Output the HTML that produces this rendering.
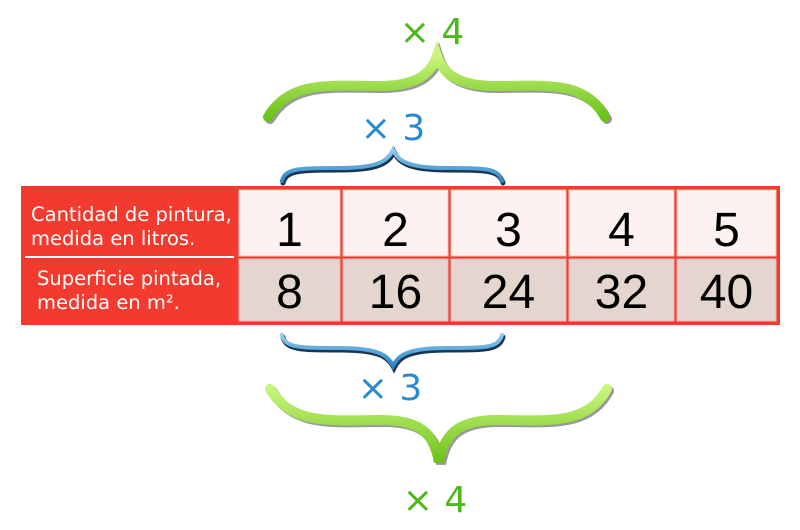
<!DOCTYPE html>
<html><head><meta charset="utf-8"><style>
body{margin:0;width:800px;height:530px;background:#fff;overflow:hidden;font-family:"Liberation Sans",sans-serif}
svg{display:block}
</style></head><body>
<svg width="800" height="530">
<defs>
<linearGradient id="gg" x1="0" y1="0" x2="0" y2="1"><stop offset="0" stop-color="#c8f57a"/><stop offset="1" stop-color="#6cc21a"/></linearGradient>
<linearGradient id="bg" x1="0" y1="0" x2="0" y2="1"><stop offset="0" stop-color="#8fcaf0"/><stop offset="1" stop-color="#2a86c8"/></linearGradient>
</defs>
<g>
<path d="M270,119 C292,82 332,88 382,88 C422,88 434,73 439,58 C444,73 457,88 497,88 C547,88 587,82 607,119" fill="none" stroke="#333" stroke-width="10" stroke-linecap="round" opacity="0.5"/>
<path d="M268,117 C290,80 330,86 380,86 C420,86 432,71 437,56 C442,71 455,86 495,86 C545,86 585,80 605,117" fill="none" stroke="url(#gg)" stroke-width="10" stroke-linecap="round"/>
</g>
<text x="432" y="44" font-size="36" fill="#4cb81a" text-anchor="middle" font-family="DejaVu Sans, sans-serif">× 4</text>
<g>
<path d="M283,183 C286,170 301,170 341,170 C381,170 389,162 394,152 C399,162 407,170 447,170 C487,170 499,170 503,183" fill="none" stroke="#1a3550" stroke-width="5" stroke-linecap="round"/>
<path d="M282,181 C285,168 300,168 340,168 C380,168 388,160 393,150 C398,160 406,168 446,168 C486,168 498,168 502,181" fill="none" stroke="url(#bg)" stroke-width="4" stroke-linecap="round"/>
</g>
<text x="393" y="140" font-size="36" fill="#2a8ad0" text-anchor="middle" font-family="DejaVu Sans, sans-serif">× 3</text>
<g>
<rect x="21" y="186" width="759" height="139" fill="#f33a2e"/>
<line x1="25" y1="257" x2="234" y2="257" stroke="#fff" stroke-width="2"/>
<g font-family="DejaVu Sans, sans-serif" font-size="19.5" fill="#fff">
<text x="31" y="221">Cantidad de pintura,</text>
<text x="31" y="245">medida en litros.</text>
<text x="37" y="285">Superficie pintada,</text>
<text x="37" y="309">medida en m².</text>
</g>
<g id="cells"></g>
</g>
<g>
<path d="M283,337 C286,350 301,350 341,350 C381,350 389,358 394,368 C399,358 407,350 447,350 C487,350 499,350 503,337" fill="none" stroke="#1a3550" stroke-width="5" stroke-linecap="round"/>
<path d="M282,335 C285,348 300,348 340,348 C380,348 388,356 393,366 C398,356 406,348 446,348 C486,348 498,348 502,335" fill="none" stroke="url(#bg)" stroke-width="4" stroke-linecap="round"/>
</g>
<text x="390" y="400" font-size="36" fill="#2a8ad0" text-anchor="middle" font-family="DejaVu Sans, sans-serif">× 3</text>
<g>
<path d="M272,391 C294,428 334,422 384,422 C424,422 436,437 441,464 C446,437 459,422 499,422 C549,422 589,428 609,391" fill="none" stroke="#333" stroke-width="10" stroke-linecap="round" opacity="0.5"/>
<path d="M270,389 C292,426 332,420 382,420 C422,420 434,435 439,462 C444,435 457,420 497,420 C547,420 587,426 607,389" fill="none" stroke="url(#gg)" stroke-width="10" stroke-linecap="round"/>
</g>
<text x="435" y="512" font-size="36" fill="#4cb81a" text-anchor="middle" font-family="DejaVu Sans, sans-serif">× 4</text>
</svg>
<script>
const litros=[1,2,3,4,5];
const superficie=[8,16,24,32,40];
const colEdges=[237,341,449,567,675,777];
const g=document.getElementById('cells');
const ns='http://www.w3.org/2000/svg';
function add(tag,attrs,name,txt){const e=document.createElementNS(ns,tag);for(const k in attrs)e.setAttribute(k,attrs[k]);


if(txt!==undefined)e.textContent=txt;g.appendChild(e);return e;}
litros.forEach((v,i)=>{
 const x0=colEdges[i]+2,x1=colEdges[i+1]-1;
 add('rect',{x:x0,y:190,width:x1-x0,height:66,fill:'#fdf2ef',stroke:'#f7c0b8','stroke-width':1},'litros-cell-'+v);
 add('text',{x:(x0+x1)/2,y:246,'font-size':48,'text-anchor':'middle',fill:'#000'},'litros-value-'+v,String(v));
 const s=superficie[i];
 add('rect',{x:x0,y:259,width:x1-x0,height:62,fill:'#e5d5cf',stroke:'#f0b8b0','stroke-width':1},'superficie-cell-'+s);
 add('text',{x:(x0+x1)/2,y:308,'font-size':48,'text-anchor':'middle',fill:'#000'},'superficie-value-'+s,String(s));
});
</script>
</body></html>
